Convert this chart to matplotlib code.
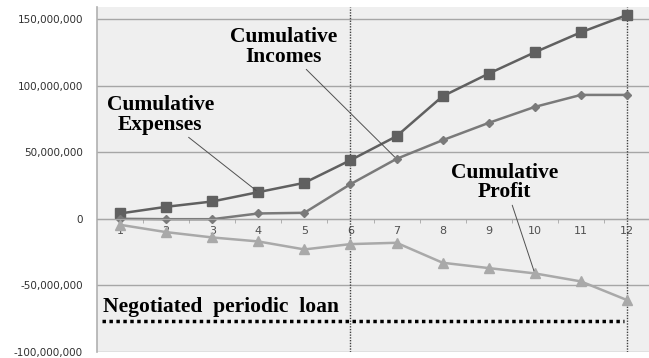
import matplotlib.pyplot as plt
import matplotlib.ticker as mticker

# periods and cumulative series
periods = list(range(1, 13))
expenses = [4e6, 9e6, 13e6, 20e6, 27e6, 44e6, 62e6, 92e6, 109e6, 125e6, 140e6, 153e6]
incomes = [0, -0.3e6, -0.3e6, 4e6, 4.5e6, 26e6, 45e6, 59e6, 72e6, 84e6, 93e6, 93e6]
profit = [-4.5e6, -10e6, -14e6, -17e6, -23e6, -19e6, -18e6, -33e6, -37e6, -41e6, -47e6, -61e6]
loan_level = -77e6
loan_span = [0.61, 11.93]
marked_periods = [6, 12]

fig = plt.figure(figsize=(6.49, 3.58), dpi=100)
ax = fig.add_axes([97 / 649, 6 / 358, 553 / 649, 345 / 358])
ax.set_facecolor('#efefef')

ax.set_xlim(0.5, 12.5)
ax.set_ylim(-100e6, 159e6)

ax.yaxis.set_major_locator(mticker.MultipleLocator(50e6))
ax.yaxis.set_major_formatter(mticker.FuncFormatter(lambda v, p: f"{v:,.0f}"))
ax.grid(axis='y', color='#a6a6a6', linewidth=1)
ax.set_axisbelow(True)

for s in ['top', 'right']:
    ax.spines[s].set_visible(False)
ax.spines['left'].set_color('#b0b0b0')
ax.spines['left'].set_linewidth(1.2)
ax.spines['bottom'].set_position(('data', 0))
ax.spines['bottom'].set_color('#a6a6a6')

ax.set_xticks(periods)
ax.set_xticks([p + 0.5 for p in periods[:-1]], minor=True)
ax.tick_params(axis='x', which='major', length=0, labelsize=8, labelcolor='#505050', pad=5)
ax.tick_params(axis='x', which='minor', length=3, color='#a6a6a6')
ax.tick_params(axis='y', length=0, labelsize=7.5, labelcolor='#303030', pad=10)

for p in marked_periods:
    ax.axvline(p, color='#404040', linestyle=(0, (1, 1)), linewidth=1)

ax.plot(periods, expenses, color='#606060', linewidth=1.8, marker='s', markersize=7)
ax.plot(periods, incomes, color='#7a7a7a', linewidth=1.8, marker='D', markersize=4.5)
ax.plot(periods, profit, color='#a9a9a9', linewidth=1.8, marker='^', markersize=7)

ax.plot(loan_span, [loan_level, loan_level], color='black', linewidth=2.5, linestyle=(0, (1, 1)))

lbl = dict(family='Liberation Serif', weight='bold', fontsize=15.5, ha='center', va='center',
           linespacing=0.95)
arr = dict(arrowstyle='-', color='#505050', linewidth=0.7, shrinkA=0, shrinkB=2)

ax.annotate('Cumulative\nExpenses', xy=(4, expenses[3]), xytext=(1.87, 78e6),
            arrowprops=arr, **lbl)
ax.annotate('Cumulative\nIncomes', xy=(7, incomes[6]), xytext=(4.55, 129e6),
            arrowprops=arr, **lbl)
ax.annotate('Cumulative\nProfit', xy=(10, profit[9]), xytext=(9.35, 27e6),
            arrowprops=arr, **lbl)

ax.text(0.62, -66e6, 'Negotiated  periodic  loan', family='Liberation Serif', weight='bold',
        fontsize=15.5, ha='left', va='center')

fig.savefig('out.png', dpi=100, facecolor='white')
